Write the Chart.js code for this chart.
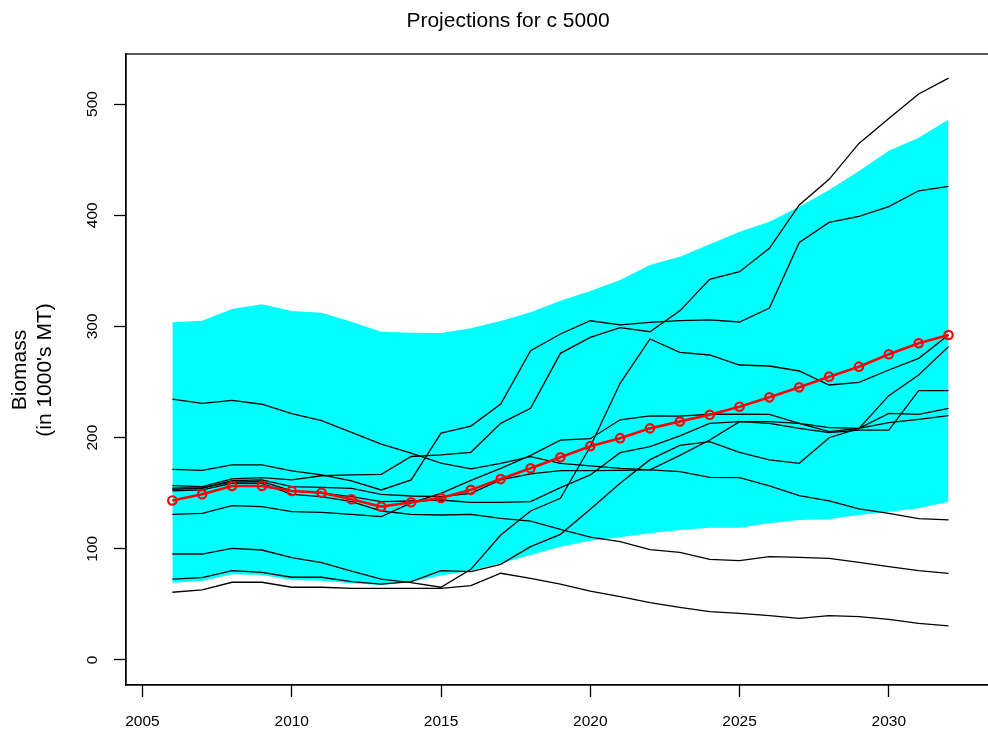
<!DOCTYPE html>
<html>
<head>
<meta charset="utf-8">
<script src="https://cdn.jsdelivr.net/npm/chart.js@4.4.1/dist/chart.umd.min.js"></script>
<style>
  html, body { margin: 0; padding: 0; background: #fff; overflow: hidden; }
  #wrap { width: 1000px; height: 737px; }
</style>
</head>
<body>
<div id="wrap"><canvas id="proj" width="1000" height="737"></canvas></div>
<script>
// projection years
const years = [2006,2007,2008,2009,2010,2011,2012,2013,2014,2015,2016,2017,2018,2019,2020,
               2021,2022,2023,2024,2025,2026,2027,2028,2029,2030,2031,2032];

// confidence band (1000's MT)
const bandLower = [69.5,71,77,76.4,72,71.3,69,67.4,70.4,76,80.3,87,94.4,101.9,107.3,110.3,113.9,
                   116.9,119,119,122.9,125.9,126.5,130.4,133.4,136.4,142.4];
const bandUpper = [303.7,305.1,315.6,319.9,313.8,312.3,304.2,295.2,294.3,294,298.3,304.9,312.7,323,
                   331.8,341.7,355.2,362.7,373.8,385.2,394.2,407.7,422.7,439.7,458,469.7,486.2];

// mean projection
const meanBiomass = [143.5,149,156.5,156.5,152,150.5,144.5,137.9,141.8,145.7,153,162.7,172.4,182.3,
                     192.3,199.5,208.3,214.5,220.5,227.8,236.2,245.2,254.8,263.8,274.9,284.8,292.3];

// individual simulated trajectories
const sim1 = [171.5,170.6,175.4,175.4,170,166.4,161,152.9,161.9,204,210.4,230.2,278.2,293.2,305.1,
              301.3,303.7,305.2,305.8,304,316.5,375.5,393.5,399,407.7,422,426];
const sim2 = [156.8,155.9,162.8,164,161.9,165.7,166.4,167,183,184.4,186.8,212.8,226.3,275.8,290.2,
              298.9,295.2,314,342.3,349.2,370.2,409.2,432.3,464.6,487.1,509,523.3];
const sim3 = [234.7,230.8,233.5,230,221.5,215.2,204.7,194.2,186,177,171.8,176.9,182.8,176.9,174.5,
              172.4,170.9,169.4,164.3,164,156.5,147.8,143,135.8,131.9,127.1,126];
const sim4 = [153.5,154.4,161.3,161.9,155.9,155.3,154.4,149,147.5,146.9,149.9,161.9,167.3,170.3,170.3,
              170.5,171,184,197.8,214.3,212.8,208.3,204.4,206.8,206.8,242.2,242.2];
const sim5 = [154.5,155,160,160.5,152,150,147,142.4,143,143.9,141.8,141.8,142.4,155,166.4,
              186.5,191.8,201.5,212.8,214.3,214.3,212.8,208.9,208.3,213.4,216.4,219.7];
const sim6 = [131,131.9,138.8,137.9,133.4,132.8,131,128.9,141.3,149.9,161.5,172.4,184,197.8,199,
              216,219.5,219.4,221,221,220.9,212.8,205.3,208.3,221.8,220.9,226.3];
const sim7 = [152,152.9,158.9,158.9,149,146.9,142.4,134,131,130.4,131,127.4,124.8,117.5,110.5,
              106.4,99.2,96.8,90.5,89.3,92.9,92.3,91.4,87.8,83.9,80.3,77.9];
const sim8 = [72.8,74,80.3,78.8,74.4,74.4,70.4,68.3,70.4,80.3,79.4,86,101.9,113,135.5,
              158.9,180.2,193,196.3,186.8,179.9,176.9,199.9,208.3,237.7,256.3,281.8];
const sim9 = [95.3,95.3,100.4,98.9,92,87.5,80,72.8,69.5,65.4,81.5,112.4,134,145.4,192,
              248.8,288.7,276.7,274.3,265.3,264.4,259.9,247.3,249.7,260.8,271.3,292.3];
const sim10 = [60.9,63,69.9,69.9,65.4,65.4,64.4,64.4,64.4,64.4,66.8,78,73.4,68.3,62,
               57,51.6,47.3,43.5,42,39.9,37.5,39.9,39,36.6,33,30.6];

const yTicks = [0,100,200,300,400,500];
const xTicks = [2005,2010,2015,2020,2025,2030];

const sims = [sim1,sim2,sim3,sim4,sim5,sim6,sim7,sim8,sim9,sim10];
const FONT = "'Liberation Sans', Arial, sans-serif";

function pts(arr) {
  return years.map((yr, i) => ({x: yr, y: arr[i]}));
}

var datasets = [];
datasets.push({
  label: 'lower', data: pts(bandLower), borderWidth: 0, pointRadius: 0,
  fill: false, order: 3
});
datasets.push({
  label: 'upper', data: pts(bandUpper), borderWidth: 0, pointRadius: 0,
  fill: '-1', backgroundColor: '#00FFFF', order: 3
});
for (var i = 0; i < sims.length; i++) {
  datasets.push({
    label: 'sim' + (i + 1), data: pts(sims[i]), borderColor: '#000',
    borderWidth: 1.3, pointRadius: 0, fill: false, tension: 0, order: 2
  });
}
datasets.push({
  label: 'mean', data: pts(meanBiomass), borderColor: '#FF0000', borderWidth: 2.6,
  pointRadius: 4.2, pointBorderWidth: 2.2, pointBorderColor: '#FF0000',
  pointBackgroundColor: 'rgba(0,0,0,0)', fill: false, tension: 0, order: 1
});

// box, title, y label and rotated y tick labels, drawn the R way
const rDecor = {
  id: 'rDecor',
  afterDraw(chart) {
    const ctx = chart.ctx;
    const a = chart.chartArea;
    const ys = chart.scales.y;
    ctx.save();
    ctx.strokeStyle = '#000';
    ctx.lineWidth = 1.3;
    ctx.strokeRect(a.left, a.top, a.right - a.left, a.bottom - a.top);

    ctx.fillStyle = '#000';
    ctx.textAlign = 'center';
    ctx.textBaseline = 'middle';
    ctx.font = '21px ' + FONT;
    ctx.fillText('Projections for c 5000', 508, 21);

    // y tick labels, vertical
    ctx.font = '15.5px ' + FONT;
    yTicks.forEach(v => {
      const py = ys.getPixelForValue(v);
      ctx.save();
      ctx.translate(93, py);
      ctx.rotate(-Math.PI / 2);
      ctx.fillText(String(v), 0, 0);
      ctx.restore();
    });

    // axis title
    ctx.font = '21px ' + FONT;
    ctx.save();
    ctx.translate(20, 370);
    ctx.rotate(-Math.PI / 2);
    ctx.fillText('Biomass', 0, 0);
    ctx.fillText("(in 1000's MT)", 0, 25);
    ctx.restore();
    ctx.restore();
  }
};

var chart = new Chart(document.getElementById('proj').getContext('2d'), {
  type: 'line',
  data: { datasets: datasets },
  plugins: [rDecor],
  options: {
    responsive: false,
    animation: false,
    devicePixelRatio: 1,
    layout: { padding: { top: 54, left: 0, right: 5, bottom: 0 } },
    plugins: {
      legend: { display: false },
      tooltip: { enabled: false },
      title: { display: false }
    },
    scales: {
      x: {
        type: 'linear',
        min: 2004.448,
        max: 2033.51,
        afterFit: function(scale) { scale.height = 52; },
        afterBuildTicks: function(scale) {
          scale.ticks = xTicks.map(v => ({value: v}));
        },
        ticks: {
          color: '#000',
          padding: 15,
          maxRotation: 0,
          font: { size: 15.5, family: FONT },
          callback: function(v) { return String(v); }
        },
        grid: {
          drawOnChartArea: false,
          drawTicks: true,
          tickLength: 12,
          tickWidth: 1.3,
          tickColor: '#000'
        },
        border: { display: true, color: '#000', width: 1.3 }
      },
      y: {
        type: 'linear',
        min: -22.5,
        max: 545,
        afterFit: function(scale) { scale.width = 126; },
        afterBuildTicks: function(scale) {
          scale.ticks = yTicks.map(v => ({value: v}));
        },
        ticks: { display: false },
        grid: {
          drawOnChartArea: false,
          drawTicks: true,
          tickLength: 12,
          tickWidth: 1.3,
          tickColor: '#000'
        },
        border: { display: true, color: '#000', width: 1.3 }
      }
    }
  }
});
</script>
</body>
</html>
